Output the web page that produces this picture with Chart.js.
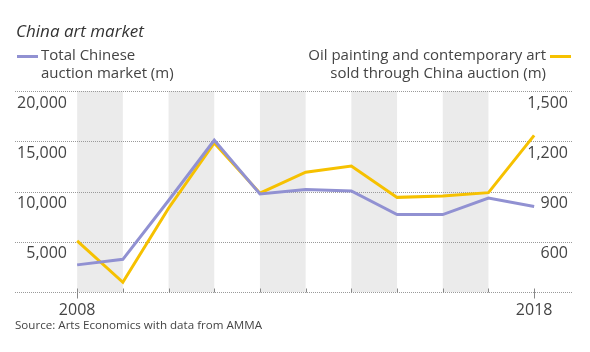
<!DOCTYPE html>
<html>
<head>
<meta charset="utf-8">
<script src="https://cdn.jsdelivr.net/npm/chart.js@4/dist/chart.umd.min.js"></script>
<style>
  html, body { margin: 0; padding: 0; background: #fff; }
  #wrap { position: relative; width: 590px; height: 352px; font-family: "Open Sans", sans-serif; color: #444; }
  #chart { position: absolute; left: 0; top: 0; }
  .t { position: absolute; white-space: nowrap; }
  #title { left: 16px; top: 19px; font-size: 17px; font-style: italic; color: #333; }
  #legL { left: 41px; top: 45px; font-size: 15px; line-height: 18px; }
  #legR { right: 44px; top: 45px; font-size: 15px; line-height: 18px; text-align: right; }
  .sw { position: absolute; height: 3px; width: 21px; }
  #source { left: 15px; top: 317px; font-size: 11.6px; }
</style>
</head>
<body>
<div id="wrap">
  <canvas id="chart" width="590" height="352"></canvas>
  <div class="t" id="title">China art market</div>
  <div class="sw" style="left:17px; top:55px; background:#9191d2;"></div>
  <div class="t" id="legL">Total Chinese<br>auction market (m)</div>
  <div class="sw" style="left:550px; top:55px; background:#f6c100;"></div>
  <div class="t" id="legR">Oil painting and contemporary art<br>sold through China auction (m)</div>
  <div class="t" id="source">Source: Arts Economics with data from AMMA</div>
</div>
<script>
// data
const years = [2008, 2009, 2010, 2011, 2012, 2013, 2014, 2015, 2016, 2017, 2018];
const totalMarket = [2700, 3250, 9100, 15100, 9750, 10200, 10050, 7700, 7700, 9350, 8500];
const oilPainting = [605, 358, 800, 1190, 890, 1015, 1052, 865, 873, 893, 1235];
const leftTicks = [5000, 10000, 15000, 20000];
const rightTicks = [600, 900, 1200, 1500];
const yearLabels = [2008, 2018];
const bandStarts = [2008, 2010, 2012, 2014, 2016];

const purple = "#9191d2";
const yellow = "#f6c100";

// gray bands, dotted grid, tick marks and axis labels
const decor = {
  id: "decor",
  beforeDatasetsDraw(chart) {
    const ctx = chart.ctx;
    const area = chart.chartArea;
    const x = chart.scales.x;
    const yl = chart.scales.yL;
    const yr = chart.scales.yR;
    ctx.save();

    ctx.fillStyle = "#ebebeb";
    bandStarts.forEach(function (b) {
      const x0 = x.getPixelForValue(b);
      const x1 = x.getPixelForValue(b + 1);
      ctx.fillRect(x0, area.top, x1 - x0, area.bottom - area.top);
    });

    ctx.strokeStyle = "#9a9a9a";
    ctx.lineWidth = 1;
    ctx.setLineDash([1, 1]);
    [0].concat(leftTicks).forEach(function (v) {
      const y = Math.round(yl.getPixelForValue(v)) + 0.5;
      ctx.beginPath();
      ctx.moveTo(area.left, y);
      ctx.lineTo(area.right, y);
      ctx.stroke();
    });
    ctx.setLineDash([]);

    const base = Math.round(yl.getPixelForValue(0)) + 0.5;
    ctx.strokeStyle = "#888";
    years.forEach(function (yr0) {
      const px = Math.round(x.getPixelForValue(yr0)) + 0.5;
      const long = yearLabels.indexOf(yr0) >= 0;
      ctx.beginPath();
      ctx.moveTo(px, base - 4);
      ctx.lineTo(px, base + (long ? 6 : 0));
      ctx.stroke();
    });

    ctx.fillStyle = "#444";
    ctx.font = "16px 'Open Sans', sans-serif";
    ctx.textBaseline = "middle";
    ctx.textAlign = "right";
    leftTicks.forEach(function (v) {
      ctx.fillText(v.toLocaleString("en-US"), 67, yl.getPixelForValue(v) + 12);
    });
    rightTicks.forEach(function (v) {
      ctx.fillText(v.toLocaleString("en-US"), 568, yr.getPixelForValue(v) + 12);
    });
    ctx.textAlign = "center";
    yearLabels.forEach(function (v) {
      ctx.fillText(String(v), x.getPixelForValue(v), base + 18);
    });
    ctx.restore();
  }
};

new Chart(document.getElementById("chart"), {
  type: "line",
  data: {
    labels: years,
    datasets: [
      {
        label: "Total Chinese auction market (m)",
        data: years.map(function (y, i) { return { x: y, y: totalMarket[i] }; }),
        borderColor: purple,
        borderWidth: 3,
        pointRadius: 0,
        tension: 0,
        yAxisID: "yL"
      },
      {
        label: "Oil painting and contemporary art sold through China auction (m)",
        data: years.map(function (y, i) { return { x: y, y: oilPainting[i] }; }),
        borderColor: yellow,
        borderWidth: 3,
        pointRadius: 0,
        tension: 0,
        yAxisID: "yR"
      }
    ]
  },
  options: {
    responsive: false,
    animation: false,
    layout: { padding: { left: 15, right: 17, top: 91, bottom: 60 } },
    plugins: { legend: { display: false }, tooltip: { enabled: false } },
    scales: {
      x: { type: "linear", min: 2006.64, max: 2018.85, display: false },
      yL: { type: "linear", position: "left", min: 0, max: 20000, display: false },
      yR: { type: "linear", position: "right", min: 300, max: 1500, display: false }
    }
  },
  plugins: [decor]
});
</script>
</body>
</html>
